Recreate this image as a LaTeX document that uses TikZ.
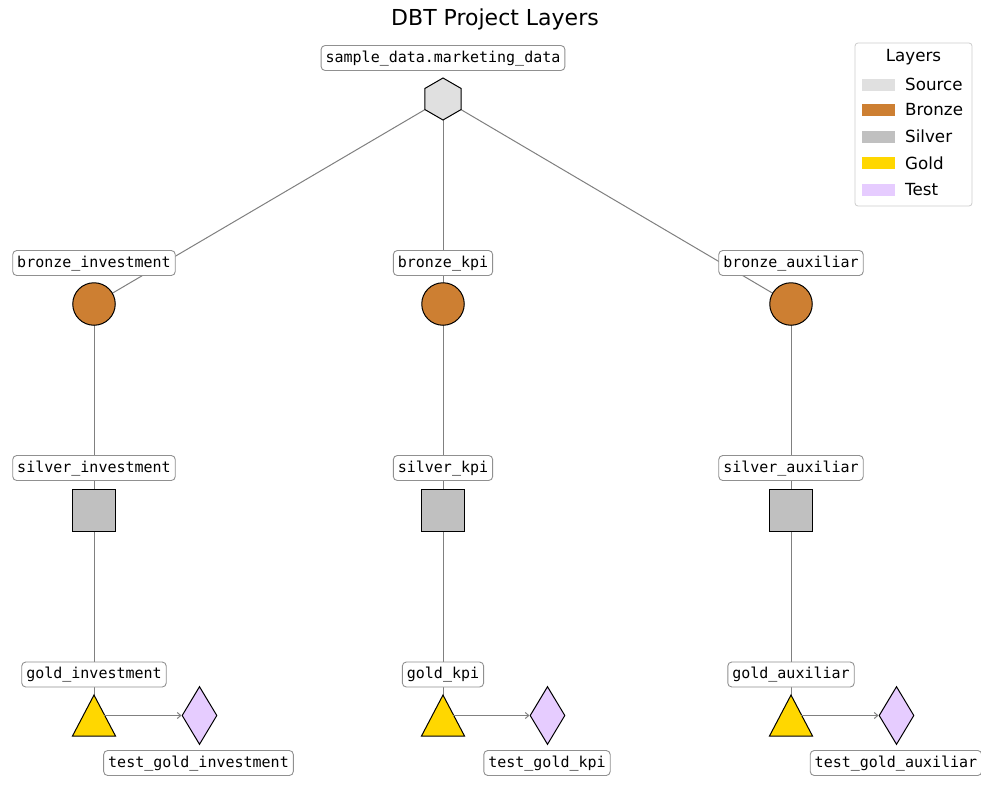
\documentclass[tikz,border=0pt]{standalone}
\usepackage{fontspec}
\setmainfont{DejaVu Sans}
\setmonofont{DejaVu Sans Mono}
\usetikzlibrary{shapes.geometric,arrows.meta,backgrounds}
\definecolor{srcC}{HTML}{E0E0E0}
\definecolor{brzC}{HTML}{CD7F32}
\definecolor{slvC}{HTML}{C0C0C0}
\definecolor{gldC}{HTML}{FFD700}
\definecolor{tstC}{HTML}{E6CCFF}
\definecolor{edgeC}{HTML}{808080}
\definecolor{boxC}{HTML}{909090}
\tikzset{
  labelbox/.style={draw=boxC, fill=white, rounded corners=4pt, line width=0.9pt,
    inner xsep=4.5pt, inner ysep=5pt, text height=11.5pt, text depth=3.5pt,
    font=\ttfamily\fontsize{15}{18}\selectfont},
  hexnode/.style={regular polygon, regular polygon sides=6, shape border rotate=30,
    minimum size=42pt, inner sep=0pt, draw=black, line width=1pt, fill=srcC},
  brznode/.style={circle, minimum size=42.5pt, inner sep=0pt, draw=black, line width=1pt, fill=brzC},
  slvnode/.style={rectangle, minimum size=42.5pt, inner sep=0pt, draw=black, line width=1pt, fill=slvC},
  tstnode/.style={diamond, minimum width=35pt, minimum height=58pt, inner sep=0pt, draw=black, line width=1pt, fill=tstC},
  goldshape/.style={draw=black, line width=1pt, fill=gldC, line join=miter},
  edge/.style={draw=edgeC, line width=1pt},
  legpatch/.style={fill=#1, draw=white, line width=0.5pt},
  legtext/.style={anchor=west, inner sep=0pt, font=\fontsize{16.7}{20}\selectfont},
}
\begin{document}
\begin{tikzpicture}[x=1pt,y=-1pt]
\useasboundingbox (0,0) rectangle (989,790);
\begin{scope}[on background layer]
  \fill[white] (0,0) rectangle (989,790);
\end{scope}

% title
\node[font=\fontsize{22}{26}\selectfont] (title) at (495,19) {DBT Project Layers};

% source
\node[hexnode] (src) at (443,99) {};
\node[labelbox] (srcL) at (443,58) {sample\_data.marketing\_data};

% bronze
\node[brznode] (b1) at (94,304) {};
\node[brznode] (b2) at (443,304) {};
\node[brznode] (b3) at (791,304) {};
\node[labelbox] (b1L) at (94,263) {bronze\_investment};
\node[labelbox] (b2L) at (443,263) {bronze\_kpi};
\node[labelbox] (b3L) at (791,263) {bronze\_auxiliar};

% silver
\node[slvnode] (s1) at (94,510.5) {};
\node[slvnode] (s2) at (443,510.5) {};
\node[slvnode] (s3) at (791,510.5) {};
\node[labelbox] (s1L) at (94,468) {silver\_investment};
\node[labelbox] (s2L) at (443,468) {silver\_kpi};
\node[labelbox] (s3L) at (791,468) {silver\_auxiliar};

% gold (triangles drawn around named centres)
\coordinate (g1) at (94,715.5);
\coordinate (g2) at (443,715.5);
\coordinate (g3) at (791,715.5);
\foreach \g in {g1,g2,g3}{
  \draw[goldshape] (\g) ++(0,-20.5) -- ++(21.5,41) -- ++(-43,0) -- cycle;
}
\node[labelbox] (g1L) at (94,674.5) {gold\_investment};
\node[labelbox] (g2L) at (443,674.5) {gold\_kpi};
\node[labelbox] (g3L) at (791,674.5) {gold\_auxiliar};

% tests
\node[tstnode] (t1) at (199.5,715.5) {};
\node[tstnode] (t2) at (547.5,715.5) {};
\node[tstnode] (t3) at (896.5,715.5) {};
\node[labelbox] (t1L) at (198.5,763) {test\_gold\_investment};
\node[labelbox] (t2L) at (547,763) {test\_gold\_kpi};
\node[labelbox] (t3L) at (896,763) {test\_gold\_auxiliar};
\fill[white] (980.5,745) rectangle (989,790);

% edges
\begin{scope}[on background layer]
  \draw[edge] (src.center) -- (b1.center);
  \draw[edge] (src.center) -- (b2.center);
  \draw[edge] (src.center) -- (b3.center);
  \draw[edge] (b1.center) -- (s1.center);
  \draw[edge] (b2.center) -- (s2.center);
  \draw[edge] (b3.center) -- (s3.center);
  \draw[edge] (s1.center) -- (g1);
  \draw[edge] (s2.center) -- (g2);
  \draw[edge] (s3.center) -- (g3);
\end{scope}
\draw[edge,-{Straight Barb[length=3.5pt,width=6pt]}] (g1) ++(10,0) -- (t1.west);
\draw[edge,-{Straight Barb[length=3.5pt,width=6pt]}] (g2) ++(10,0) -- (t2.west);
\draw[edge,-{Straight Barb[length=3.5pt,width=6pt]}] (g3) ++(10,0) -- (t3.west);

% legend
\draw[draw=black!20, fill=white, rounded corners=3pt, line width=0.8pt] (855,43) rectangle (972,206);
\node[font=\fontsize{16.7}{20}\selectfont] (legT) at (913.5,57) {Layers};
\fill[legpatch=srcC] (861,78) rectangle (895,91);
\fill[legpatch=brzC] (861,103.5) rectangle (895,116.5);
\fill[legpatch=slvC] (861,130) rectangle (895,143);
\fill[legpatch=gldC] (861,156.5) rectangle (895,169.5);
\fill[legpatch=tstC] (861,183) rectangle (895,196);
\node[legtext] (l1) at (905,84.5) {Source};
\node[legtext] (l2) at (905,110) {Bronze};
\node[legtext] (l3) at (905,136.5) {Silver};
\node[legtext] (l4) at (905,163) {Gold};
\node[legtext] (l5) at (905,189.5) {Test};
\end{tikzpicture}
\end{document}
